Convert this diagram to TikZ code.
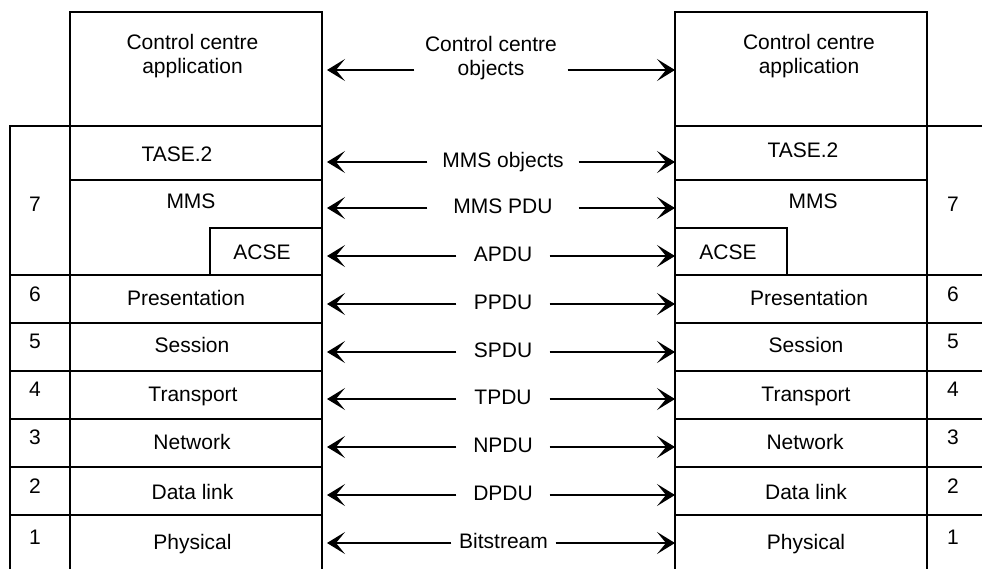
\documentclass[tikz,border=0pt]{standalone}
\usepackage{fontspec}
\setmainfont{Liberation Sans}
\usetikzlibrary{arrows.meta}
\begin{document}
\begin{tikzpicture}[x=1pt,y=-1pt,
  font=\fontsize{21}{24}\selectfont,
  line width=1.4pt,
  cell/.style={draw, rectangle, inner sep=0pt, outer sep=0pt},
  txt/.style={inner sep=0pt, text height=15pt, text depth=4pt},
  msg/.style={inner sep=0pt, text height=15pt, text depth=4pt},
  arr/.style={-{Stealth[length=18pt,width=22pt,inset=9pt]}, line width=1.3pt}]
\path[use as bounding box] (0,0) rectangle (982,568);
\clip (0,0) rectangle (982,568);

% ---------- left stack ----------
\node[cell, minimum width=252pt, minimum height=114pt] (appL)  at (196,69) {};
\node[cell, minimum width=252pt, minimum height=54pt]  (taseL) at (196,153) {};
\node[cell, minimum width=252pt, minimum height=95pt]  (mmsL)  at (196,227.5) {};
\node[cell, minimum width=112pt, minimum height=47pt]  (acseL) at (266,251.5) {};
\node[cell, minimum width=252pt, minimum height=48pt]  (presL) at (196,299) {};
\node[cell, minimum width=252pt, minimum height=48pt]  (sessL) at (196,347) {};
\node[cell, minimum width=252pt, minimum height=48pt]  (tranL) at (196,395) {};
\node[cell, minimum width=252pt, minimum height=48pt]  (netL)  at (196,443) {};
\node[cell, minimum width=252pt, minimum height=48pt]  (dlL)   at (196,491) {};
\node[cell, minimum width=252pt, minimum height=75pt]  (phyL)  at (196,552.5) {};

% layer numbers, left
\node[cell, minimum width=60pt, minimum height=149pt] (n7L) at (40,200.5) {};
\node[cell, minimum width=60pt, minimum height=48pt]  (n6L) at (40,299) {};
\node[cell, minimum width=60pt, minimum height=48pt]  (n5L) at (40,347) {};
\node[cell, minimum width=60pt, minimum height=48pt]  (n4L) at (40,395) {};
\node[cell, minimum width=60pt, minimum height=48pt]  (n3L) at (40,443) {};
\node[cell, minimum width=60pt, minimum height=48pt]  (n2L) at (40,491) {};
\node[cell, minimum width=60pt, minimum height=75pt]  (n1L) at (40,552.5) {};

% ---------- right stack ----------
\node[cell, minimum width=252pt, minimum height=114pt] (appR)  at (801,69) {};
\node[cell, minimum width=252pt, minimum height=54pt]  (taseR) at (801,153) {};
\node[cell, minimum width=252pt, minimum height=95pt]  (mmsR)  at (801,227.5) {};
\node[cell, minimum width=112pt, minimum height=47pt]  (acseR) at (731,251.5) {};
\node[cell, minimum width=252pt, minimum height=48pt]  (presR) at (801,299) {};
\node[cell, minimum width=252pt, minimum height=48pt]  (sessR) at (801,347) {};
\node[cell, minimum width=252pt, minimum height=48pt]  (tranR) at (801,395) {};
\node[cell, minimum width=252pt, minimum height=48pt]  (netR)  at (801,443) {};
\node[cell, minimum width=252pt, minimum height=48pt]  (dlR)   at (801,491) {};
\node[cell, minimum width=252pt, minimum height=75pt]  (phyR)  at (801,552.5) {};

% layer numbers, right (open towards the page edge)
\node[cell, minimum width=80pt, minimum height=149pt] (n7R) at (967,200.5) {};
\node[cell, minimum width=80pt, minimum height=48pt]  (n6R) at (967,299) {};
\node[cell, minimum width=80pt, minimum height=48pt]  (n5R) at (967,347) {};
\node[cell, minimum width=80pt, minimum height=48pt]  (n4R) at (967,395) {};
\node[cell, minimum width=80pt, minimum height=48pt]  (n3R) at (967,443) {};
\node[cell, minimum width=80pt, minimum height=48pt]  (n2R) at (967,491) {};
\node[cell, minimum width=80pt, minimum height=75pt]  (n1R) at (967,552.5) {};

% ---------- texts ----------
\node[txt, align=center] (tAppL) at (192.5,68) {Control centre\\application};
\node[txt] (tTaseL) at (177,156) {TASE.2};
\node[txt] (tMmsL)  at (191,203) {MMS};
\node[txt] (tAcseL) at (262,254) {ACSE};
\node[txt] (tPresL) at (186,300) {Presentation};
\node[txt] (tSessL) at (192,347) {Session};
\node[txt] (tTranL) at (193,396) {Transport};
\node[txt] (tNetL)  at (192,444) {Network};
\node[txt] (tDlL)   at (192.5,494) {Data link};
\node[txt] (tPhyL)  at (192.5,544) {Physical};

\node[txt, align=center] (tAppR) at (809,68) {Control centre\\application};
\node[txt] (tTaseR) at (803,152) {TASE.2};
\node[txt] (tMmsR)  at (813,203) {MMS};
\node[txt] (tAcseR) at (728,254) {ACSE};
\node[txt] (tPresR) at (809,300) {Presentation};
\node[txt] (tSessR) at (806,347) {Session};
\node[txt] (tTranR) at (806,396) {Transport};
\node[txt] (tNetR)  at (805,444) {Network};
\node[txt] (tDlR)   at (806,494) {Data link};
\node[txt] (tPhyR)  at (806,544) {Physical};

\node[txt] (d7L) at (35,206) {7};
\node[txt] (d6L) at (35,296) {6};
\node[txt] (d5L) at (35,343) {5};
\node[txt] (d4L) at (35,391) {4};
\node[txt] (d3L) at (35,439) {3};
\node[txt] (d2L) at (35,488) {2};
\node[txt] (d1L) at (35,539) {1};

\node[txt] (d7R) at (953,206) {7};
\node[txt] (d6R) at (953,296) {6};
\node[txt] (d5R) at (953,343) {5};
\node[txt] (d4R) at (953,391) {4};
\node[txt] (d3R) at (953,439) {3};
\node[txt] (d2R) at (953,488) {2};
\node[txt] (d1R) at (953,539) {1};

% ---------- peer-to-peer exchanges ----------
\coordinate (lgap) at (327,0);
\coordinate (rgap) at (675,0);

\node[msg, align=center, minimum width=152pt] (mCCO)  at (491,70)  {Control centre\\objects};
\node[msg, minimum width=150pt] (mMMSO) at (503,162) {MMS objects};
\node[msg, minimum width=150pt] (mMMSP) at (503,208) {MMS PDU};
\node[msg, minimum width=92pt]  (mAPDU) at (503,256) {APDU};
\node[msg, minimum width=92pt]  (mPPDU) at (503,304) {PPDU};
\node[msg, minimum width=92pt]  (mSPDU) at (503,352) {SPDU};
\node[msg, minimum width=92pt]  (mTPDU) at (503,399) {TPDU};
\node[msg, minimum width=92pt]  (mNPDU) at (503,447) {NPDU};
\node[msg, minimum width=92pt]  (mDPDU) at (503,495) {DPDU};
\node[msg, minimum width=103pt] (mBits) at (503.5,543) {Bitstream};

\foreach \m in {mCCO,mMMSO,mMMSP,mAPDU,mPPDU,mSPDU,mTPDU,mNPDU,mDPDU,mBits}{
  \draw[arr] (\m.west) -- (\m.west -| lgap);
  \draw[arr] (\m.east) -- (\m.east -| rgap);
}
\end{tikzpicture}
\end{document}
